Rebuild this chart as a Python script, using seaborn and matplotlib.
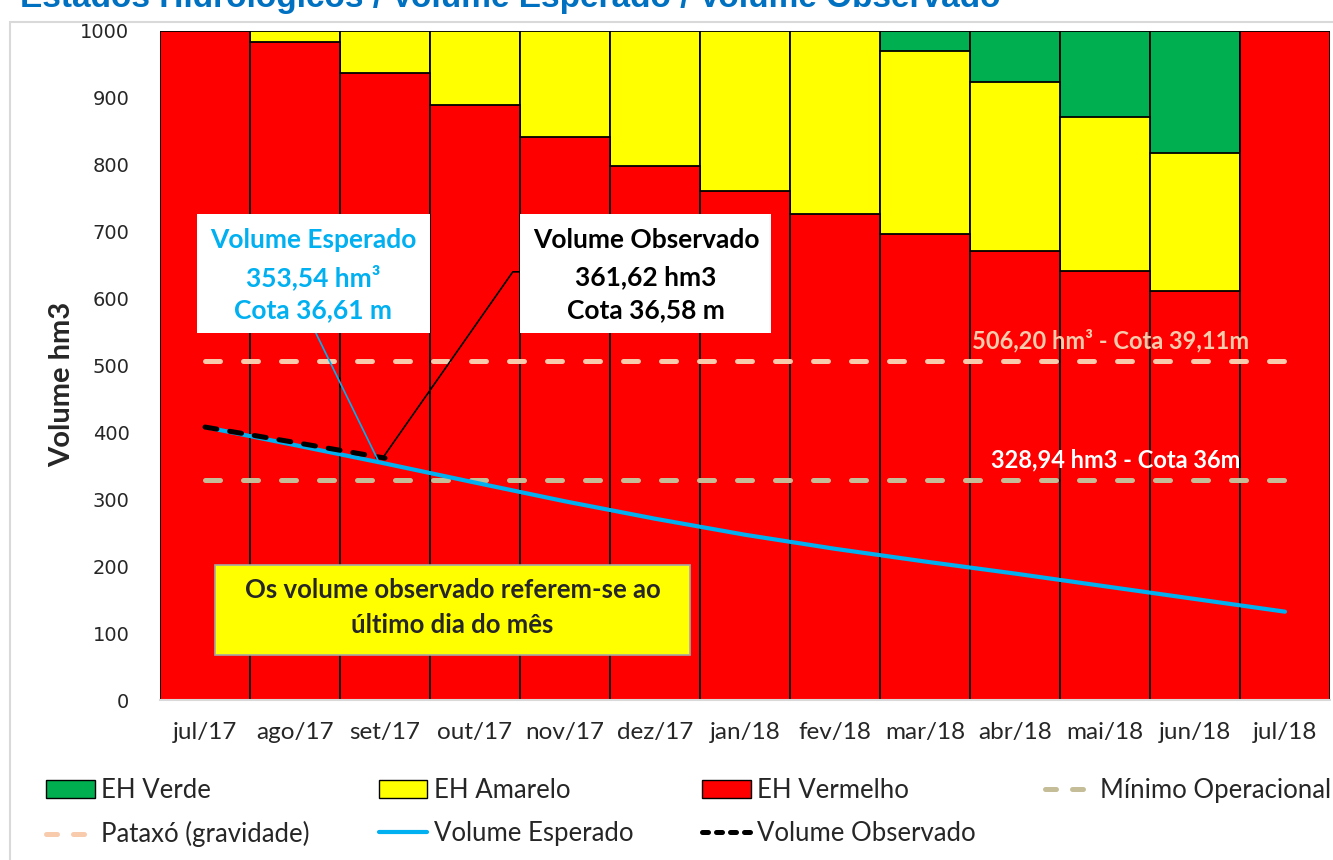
import numpy as np
import pandas as pd
import seaborn as sns
import matplotlib.pyplot as plt
from matplotlib.patches import Patch, Rectangle
from matplotlib.lines import Line2D

months = ['jul/17', 'ago/17', 'set/17', 'out/17', 'nov/17', 'dez/17', 'jan/18',
          'fev/18', 'mar/18', 'abr/18', 'mai/18', 'jun/18', 'jul/18']
eh_vermelho = [1000, 983, 937, 889, 841, 798, 761, 726, 697, 671, 642, 612, 1000]
eh_amarelo = [0, 17, 63, 111, 159, 202, 239, 274, 273, 253, 229, 206, 0]
eh_verde = [0, 0, 0, 0, 0, 0, 0, 0, 30, 76, 129, 182, 0]
vol_esperado = [408, 381, 353.54, 325, 297, 271, 247, 226, 207, 189, 170, 151, 132]
vol_observado = [408, 385, 361.62]
minimo_operacional = 328.94
pataxo = 506.20

RED, YELLOW, GREEN = '#FF0000', '#FFFF00', '#00B050'
BLUE, TAN, PEACH = '#00B0F0', '#C4BD97', '#F8CBAD'

df = pd.DataFrame({'mes': months, 'verm': eh_vermelho, 'amar': eh_amarelo, 'verde': eh_verde})
df['top_amar'] = df['verm'] + df['amar']
df['top_verde'] = df['top_amar'] + df['verde']

sns.set_style('white')
plt.rcParams['font.family'] = ['Lato', 'DejaVu Sans']

fig = plt.figure(figsize=(13.33, 8.6), dpi=100)
ax = fig.add_axes([160 / 1333, 1 - 700 / 860, 1170 / 1333, 669 / 860])

# stacked bars: draw cumulative totals back to front
for col, c in [('top_verde', GREEN), ('top_amar', YELLOW), ('verm', RED)]:
    sns.barplot(data=df, x='mes', y=col, color=c, saturation=1, width=1.0,
                edgecolor='black', linewidth=1.3, ax=ax)

xs = np.arange(len(months))
ax.plot([xs[0], xs[-1]], [pataxo, pataxo], color=PEACH, lw=3.6,
        dashes=(3, 4.6), dash_capstyle='round')
ax.plot([xs[0], xs[-1]], [minimo_operacional, minimo_operacional], color=TAN, lw=3.6,
        dashes=(3, 4.6), dash_capstyle='round')
sns.lineplot(x=xs, y=vol_esperado, color=BLUE, lw=3, sort=False, ax=ax)
ax.plot(xs[:len(vol_observado)], vol_observado, color='black', lw=3.6,
        dashes=(2.4, 2.6), dash_capstyle='round')

ax.set_xlim(-0.5, 12.5)
ax.set_ylim(0, 1000)
ax.set_yticks(range(0, 1001, 100))
ax.set_xlabel('')
ax.set_ylabel('Volume hm3', fontsize=21, fontweight='bold')
ax.yaxis.label.set_va('center')
ax.yaxis.set_label_coords((62 - 160) / 1170, (700 - 384) / 669)
ax.tick_params(axis='x', labelsize=17.5, length=0, pad=16)
ax.tick_params(axis='y', length=0, pad=22)
for lbl in ax.get_yticklabels():
    lbl.set_fontfamily('DejaVu Sans')
    lbl.set_fontsize(14)
for s in ['left', 'top', 'right']:
    ax.spines[s].set_visible(False)
ax.spines['bottom'].set_color('#D9D9D9')
ax.spines['bottom'].set_linewidth(1.5)

# reference line labels
ax.text(10.06, 537, '506,20 hm³ - Cota 39,11m', color=PEACH, fontsize=17,
        fontweight='bold', ha='center', va='center')
ax.text(10.12, 359, '328,94 hm3 - Cota 36m', color='white', fontsize=17,
        fontweight='bold', ha='center', va='center')

# callout boxes
ax.add_patch(Rectangle((-0.09, 549), 2.59, 177, facecolor='white', edgecolor='none', zorder=5))
for y, t in zip([688, 632, 583], ['Volume Esperado', '353,54 hm³', 'Cota 36,61 m']):
    ax.text(1.2, y, t, color=BLUE, fontsize=19, fontweight='bold', ha='center',
            va='center', zorder=6)
ax.plot([1.23, 1.92], [549, 359], color=BLUE, lw=1.2, zorder=4)

ax.add_patch(Rectangle((3.5, 549), 2.79, 177, facecolor='white', edgecolor='none', zorder=5))
for y, t in zip([688, 632, 583], ['Volume Observado', '361,62 hm3', 'Cota 36,58 m']):
    ax.text(4.9, y, t, color='black', fontsize=19, fontweight='bold', ha='center',
            va='center', zorder=6)
ax.plot([3.5, 3.42, 1.97], [640, 640, 361], color='black', lw=1.2, zorder=4)

# note box
ax.add_patch(Rectangle((0.11, 67), 5.28, 135, facecolor=YELLOW, edgecolor='#A6A6A6',
                       lw=1.2, zorder=5))
ax.text(2.75, 164, 'Os volume observado referem-se ao', fontsize=18.5, fontweight='bold',
        ha='center', va='center', zorder=6)
ax.text(2.75, 112, 'último dia do mês', fontsize=18.5, fontweight='bold',
        ha='center', va='center', zorder=6)

# legend
handles = [
    Patch(facecolor=GREEN, edgecolor='black', label='EH Verde'),
    Line2D([], [], color=PEACH, lw=3.6, dashes=(2.2, 3.2), dash_capstyle='round',
           label='Pataxó (gravidade)'),
    Patch(facecolor=YELLOW, edgecolor='black', label='EH Amarelo'),
    Line2D([], [], color=BLUE, lw=3, label='Volume Esperado'),
    Patch(facecolor=RED, edgecolor='black', label='EH Vermelho'),
    Line2D([], [], color='black', lw=3.6, dashes=(1.2, 1.6), dash_capstyle='round',
           label='Volume Observado'),
    Line2D([], [], color=TAN, lw=3.6, dashes=(2.2, 3.2), dash_capstyle='round',
           label='Mínimo Operacional'),
]
fig.legend(handles=handles, ncol=4, loc='upper left', mode='expand',
           bbox_to_anchor=(46 / 1333, 1 - 787 / 860, 1285 / 1333, 0.01),
           frameon=False, fontsize=18.5, handlelength=1.9, handleheight=0.7,
           handletextpad=0.25, labelspacing=0.7, borderaxespad=0, borderpad=0)

# outer chart frame and (cut-off) title
fig.add_artist(Rectangle((10 / 1333, -0.05), 1.1, 1 - 22 / 860 + 0.05, fill=False,
                         edgecolor='#D9D9D9', lw=1.5, transform=fig.transFigure))
fig.text(20 / 1333, 1 - 7 / 860, 'Estados Hidrológicos / Volume Esperado / Volume Observado',
         color='#0070C0', fontsize=24, fontweight='bold', family='Liberation Sans',
         ha='left', va='baseline')

plt.savefig('out.png', dpi=100)
